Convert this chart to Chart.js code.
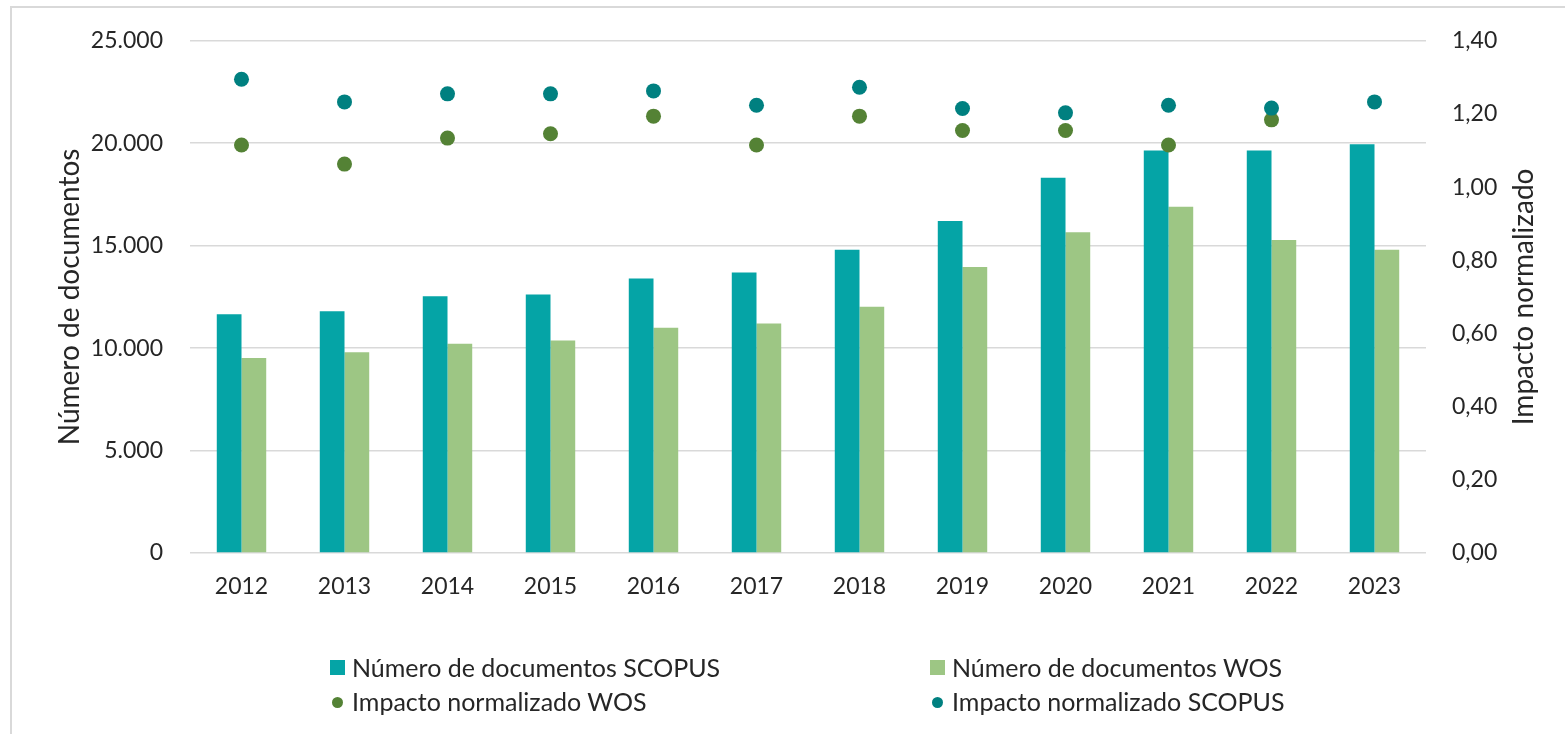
<!DOCTYPE html>
<html>
<head>
<meta charset="utf-8">
<script src="https://cdn.jsdelivr.net/npm/chart.js@4"></script>
<style>
  html, body { margin: 0; padding: 0; background: #fff; }
  #wrap { position: relative; width: 1565px; height: 734px; overflow: hidden; font-family: Lato, 'Open Sans', sans-serif; }
  #frame { position: absolute; left: 10px; top: 6px; width: 1600px; height: 800px; border: 2px solid #d9d9d9; box-sizing: border-box; }
  #chart { position: absolute; left: 0; top: 0; }
  .leg { position: absolute; font-size: 25px; color: #262626; white-space: nowrap; line-height: 30px; }
  .sw { position: absolute; }
</style>
</head>
<body>
<div id="wrap">
  <div id="frame"></div>
  <canvas id="chart" width="1565" height="734"></canvas>
  <div id="legend"></div>
</div>
<script>
const years = ['2012', '2013', '2014', '2015', '2016', '2017', '2018', '2019', '2020', '2021', '2022', '2023'];
const docsScopus = [11650, 11800, 12530, 12620, 13400, 13690, 14800, 16200, 18310, 19650, 19650, 19950];
const docsWos = [9520, 9800, 10210, 10370, 10990, 11200, 12020, 13960, 15660, 16900, 15280, 14800];
const impactWos = [1.115, 1.063, 1.134, 1.146, 1.194, 1.115, 1.194, 1.155, 1.155, 1.115, 1.184, null];
const impactScopus = [1.295, 1.233, 1.255, 1.255, 1.263, 1.224, 1.273, 1.215, 1.203, 1.224, 1.216, 1.233];
const leftTicks = [0, 5000, 10000, 15000, 20000, 25000];
const rightTicks = [0, 0.2, 0.4, 0.6, 0.8, 1.0, 1.2, 1.4];

const seriesNames = ['Número de documentos SCOPUS', 'Número de documentos WOS', 'Impacto normalizado WOS', 'Impacto normalizado SCOPUS'];
const colors = ['#05a4a6', '#9dc684', '#548235', '#008080'];

const FONT = "Lato, 'Open Sans', sans-serif";
const textColor = '#262626';
const gridColor = '#d9d9d9';

function fmtThousands(v) {
    return String(v).replace(/\B(?=(\d{3})+(?!\d))/g, '.');
}

// Chart.js turns right-hand titles the other way, so this one is drawn here
const rightTitle = {
    id: 'rightTitle',
    afterDraw(chart) {
        const c = chart.ctx;
        const area = chart.chartArea;
        c.save();
        c.translate(1524, (area.top + area.bottom) / 2);
        c.rotate(-Math.PI / 2);
        c.font = `28px ${FONT}`;
        c.fillStyle = textColor;
        c.textAlign = 'center';
        c.textBaseline = 'middle';
        c.fillText('Impacto normalizado', 0, 0);
        c.restore();
    }
};

const ctx = document.getElementById('chart').getContext('2d');
new Chart(ctx, {
    type: 'bar',
    data: {
        labels: years,
        datasets: [
            {
                type: 'line', label: seriesNames[3], data: impactScopus, yAxisID: 'y1',
                showLine: false, pointRadius: 7.5, pointHoverRadius: 7.5,
                pointBackgroundColor: colors[3], pointBorderWidth: 0, borderColor: colors[3], order: 0
            },
            {
                type: 'line', label: seriesNames[2], data: impactWos, yAxisID: 'y1',
                showLine: false, pointRadius: 7.5, pointHoverRadius: 7.5,
                pointBackgroundColor: colors[2], pointBorderWidth: 0, borderColor: colors[2], order: 1
            },
            { label: seriesNames[0], data: docsScopus, backgroundColor: colors[0], yAxisID: 'y', order: 2,
              categoryPercentage: 0.48, barPercentage: 1.0 },
            { label: seriesNames[1], data: docsWos, backgroundColor: colors[1], yAxisID: 'y', order: 2,
              categoryPercentage: 0.48, barPercentage: 1.0 }
        ]
    },
    options: {
        responsive: false,
        animation: false,
        layout: { padding: { left: 45, right: 20, top: 38, bottom: 131 } },
        plugins: {
            legend: { display: false },
            tooltip: { enabled: false }
        },
        scales: {
            x: {
                grid: { display: false, drawTicks: false },
                border: { display: false },
                ticks: { color: textColor, font: { family: FONT, size: 23 }, padding: 20, maxRotation: 0 },
                afterFit: s => { s.height = 50; }
            },
            y: {
                position: 'left',
                min: 0, max: 25000,
                afterBuildTicks: s => { s.ticks = leftTicks.map(v => ({ value: v })); },
                grid: { color: gridColor, lineWidth: 1.5, drawTicks: false },
                border: { display: false },
                ticks: { color: textColor, font: { family: FONT, size: 23 }, padding: 27, callback: v => fmtThousands(v) },
                title: { display: true, text: 'Número de documentos', color: textColor,
                         font: { family: FONT, size: 28 }, padding: { top: 8 } },
                afterFit: s => { s.width = 145; }
            },
            y1: {
                position: 'right',
                min: 0, max: 1.4,
                afterBuildTicks: s => { s.ticks = rightTicks.map(v => ({ value: v })); },
                grid: { display: false, drawTicks: false },
                border: { display: false },
                ticks: { color: textColor, font: { family: FONT, size: 23 }, padding: 26,
                         callback: v => Number(v).toFixed(2).replace('.', ',') },
                title: { display: false },
                afterFit: s => { s.width = 119; }
            }
        }
    },
    plugins: [rightTitle]
});

// legend laid out in two columns like the original
const legendItems = [
    { name: seriesNames[0], color: colors[0], shape: 'box', x: 330, y: 668 },
    { name: seriesNames[1], color: colors[1], shape: 'box', x: 930, y: 668 },
    { name: seriesNames[2], color: colors[2], shape: 'dot', x: 330, y: 702 },
    { name: seriesNames[3], color: colors[3], shape: 'dot', x: 930, y: 702 }
];
const legendEl = document.getElementById('legend');
legendItems.forEach(it => {
    const sw = document.createElement('div');
    sw.className = 'sw';
    if (it.shape === 'box') {
        sw.style.cssText = `left:${it.x}px;top:${it.y - 8}px;width:15px;height:15px;background:${it.color}`;
    } else {
        sw.style.cssText = `left:${it.x + 2}px;top:${it.y - 5}px;width:11px;height:11px;border-radius:50%;background:${it.color}`;
    }
    legendEl.appendChild(sw);
    const t = document.createElement('div');
    t.className = 'leg';
    t.textContent = it.name;
    t.style.left = (it.x + 22) + 'px';
    t.style.top = (it.y - 16) + 'px';
    legendEl.appendChild(t);
});
</script>
</body>
</html>
